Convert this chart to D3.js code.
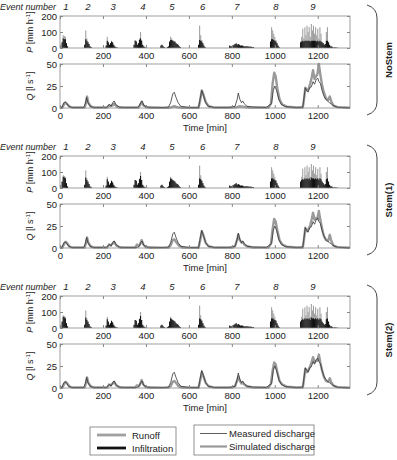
<!DOCTYPE html>
<html>
<head>
<meta charset="utf-8">
<script src="https://cdn.jsdelivr.net/npm/d3@7"></script>
<style>
body{margin:0;background:#fff;}
text{font-family:"Liberation Sans",Arial,sans-serif;fill:#222;}
</style>
</head>
<body>
<div id="chart"></div>
<script>
//Scenario names, event labels and ticks
const scenarios = ['NoStem', 'Stem(1)', 'Stem(2)'];
const eventNumbers = [1, 2, 3, 4, 5, 6, 7, 8, 9];
const eventTimes = [28, 130, 247, 386, 521, 664, 823, 1005, 1177];
const timeTicks = [0, 200, 400, 600, 800, 1000, 1200];
const pTicks = [0, 100, 200];
const qTicks = [0, 25, 50];

//Rainfall rows: [time, total P, infiltration NoStem, infiltration Stem]
const rain = [
	[10,40,35,40],[15,80,60,70],[20,75,55,65],[25,70,55,60],[30,30,30,30],[35,10,10,10],
	[115,20,20,20],[120,110,55,65],[125,60,45,50],[130,40,35,40],[135,25,25,25],[140,10,10,10],[145,5,5,5],
	[215,15,15,15],[220,70,45,55],[225,40,35,40],[230,20,20,20],[235,30,30,30],[240,45,40,45],[245,35,35,35],[250,20,20,20],[255,10,10,10],[260,5,5,5],[265,3,3,3],
	[345,20,20,20],[350,50,45,50],[355,45,40,45],[360,20,20,20],[365,30,30,30],[370,60,50,55],[375,100,60,75],[380,50,45,50],[385,20,20,20],[390,10,10,10],[395,5,5,5],
	[470,15,15,15],[475,20,20,20],[480,10,10,10],[485,5,5,5],[500,5,5,5],[505,10,10,10],[510,40,40,40],[515,70,50,60],[520,60,50,55],[525,50,45,50],[530,45,40,45],[535,40,40,40],[540,30,30,30],[545,25,25,25],[550,20,20,20],[555,10,10,10],[560,5,5,5],
	[645,20,20,20],[650,140,50,60],[655,80,45,55],[660,50,40,45],[665,30,30,30],[670,15,15,15],[675,5,5,5],
	[790,15,15,15],[795,10,10,10],[800,10,10,10],[805,15,15,15],[810,20,20,20],[815,25,25,25],[820,30,28,30],[825,20,20,20],[830,25,25,25],[835,20,20,20],[840,15,15,15],[845,15,15,15],[850,15,15,15],[855,10,10,10],[860,10,10,10],[865,10,10,10],[870,10,10,10],[875,10,10,10],[880,8,8,8],[885,8,8,8],[890,8,8,8],[895,5,5,5],[900,5,5,5],
	[980,40,40,40],[985,130,55,60],[990,110,55,60],[995,90,50,55],[1000,70,45,50],[1005,50,40,45],[1010,30,30,30],[1015,15,15,15],[1020,5,5,5],
	[1120,40,35,40],[1125,70,40,50],[1130,120,45,55],[1135,60,40,50],[1140,130,45,60],[1145,80,45,55],[1150,140,45,60],[1155,100,45,55],[1160,130,45,60],[1165,70,40,50],[1170,150,45,65],[1175,110,45,60],[1180,140,45,60],[1185,90,45,55],[1190,130,45,60],[1195,80,40,55],[1200,120,45,60],[1205,60,40,50],[1210,130,45,60],[1215,90,40,55],[1220,40,35,40],[1225,30,30,30],[1230,20,20,20],[1235,25,25,25],[1240,100,45,55],[1245,130,45,60],[1250,40,35,40],[1255,20,20,20],[1260,10,10,10],[1265,10,10,10],[1270,5,5,5],[1280,5,5,5],[1290,3,3,3]
];

//Discharge [time, Q]
const measured = [[0,0],[10,1],[18,6],[25,7],[32,5],[40,2],[55,0.5],[110,0.5],[118,5],[124,12],[130,6],[140,2],[155,0.5],[215,0.5],[225,3],[232,4],[238,2],[245,6],[252,8],[260,4],[275,1],[300,0.5],[360,0.5],[368,2],[376,6],[382,8],[390,3],[405,1],[480,0.5],[505,1],[515,6],[525,16],[532,18],[540,12],[550,6],[562,2],[600,0.5],[645,0.5],[652,10],[660,20],[668,14],[678,6],[690,2],[720,0.5],[780,0.5],[800,1],[815,2],[825,10],[830,17],[837,10],[845,6],[850,8],[858,5],[870,2],[900,1],[960,0.5],[985,5],[993,20],[1000,25],[1008,20],[1018,10],[1030,4],[1050,1.5],[1100,0.5],[1130,1],[1135,10],[1142,23],[1148,20],[1155,18],[1162,23],[1170,24],[1178,30],[1185,27],[1192,32],[1200,34],[1205,30],[1212,28],[1220,20],[1228,14],[1236,10],[1245,8],[1255,6],[1262,5],[1270,3],[1290,1],[1350,0]];

const simNoStem = [[0,0],[12,1],[20,5],[27,6],[34,4],[45,1.5],[60,0.5],[115,0.5],[120,5],[126,13],[132,6],[142,2],[160,0.5],[220,0.5],[228,3],[235,2],[245,3],[252,5],[262,2],[280,0.5],[365,0.5],[372,3],[380,7],[388,3],[400,1],[420,0.3],[505,0.3],[520,1],[532,2],[545,1],[570,0.3],[645,0.3],[652,8],[660,20],[668,15],[678,7],[692,2],[720,0.5],[800,0.5],[825,1],[835,2],[850,1.5],[880,0.5],[970,0.5],[982,5],[990,28],[997,40],[1004,36],[1012,22],[1022,10],[1035,4],[1055,1.5],[1100,0.5],[1130,0.5],[1135,8],[1142,23],[1150,20],[1158,22],[1165,28],[1172,35],[1178,43],[1185,33],[1192,36],[1198,38],[1205,50],[1212,38],[1220,26],[1228,18],[1238,11],[1248,9],[1256,13],[1262,8],[1272,3],[1290,1],[1350,0.3]];

const simStem1 = [[0,0],[12,1],[20,5],[27,7],[34,5],[45,1.5],[60,0.5],[115,0.5],[120,5],[126,12],[132,6],[142,2],[160,0.5],[220,0.5],[228,4],[235,3],[245,5],[252,7],[262,3],[280,0.5],[350,0.5],[358,4],[366,2],[372,4],[380,9],[388,4],[400,1],[420,0.3],[505,0.5],[515,3],[525,9],[532,10],[540,7],[552,3],[570,0.5],[645,0.3],[652,8],[660,19],[668,14],[678,6],[692,2],[720,0.5],[800,0.5],[815,2],[825,10],[830,15],[837,9],[845,6],[850,7],[858,4],[870,2],[900,0.5],[970,0.5],[982,5],[990,22],[997,33],[1004,30],[1012,20],[1022,9],[1035,4],[1055,1.5],[1100,0.5],[1130,0.5],[1135,8],[1142,23],[1150,19],[1158,22],[1165,26],[1172,33],[1178,40],[1185,32],[1192,34],[1198,33],[1205,42],[1212,32],[1220,22],[1228,14],[1238,9],[1248,8],[1256,15],[1262,9],[1272,3],[1290,1],[1350,0.3]];

const simStem2 = [[0,0],[12,1],[20,5],[27,7],[34,5],[45,1.5],[60,0.5],[115,0.5],[120,5],[126,12],[132,6],[142,2],[160,0.5],[220,0.5],[228,4],[235,3],[245,5],[252,7],[262,3],[280,0.5],[350,0.5],[358,3],[366,2],[372,4],[380,9],[388,4],[400,1],[420,0.3],[505,0.5],[515,2],[525,7],[532,8],[540,6],[552,2],[570,0.5],[645,0.3],[652,8],[660,18],[668,13],[678,6],[692,2],[720,0.5],[800,0.5],[815,2],[825,9],[830,13],[837,8],[845,5],[850,6],[858,4],[870,2],[900,0.5],[970,0.5],[982,5],[990,20],[997,29],[1004,27],[1012,18],[1022,8],[1035,4],[1055,1.5],[1100,0.5],[1130,0.5],[1135,8],[1142,22],[1150,18],[1158,21],[1165,25],[1172,30],[1178,35],[1185,29],[1192,31],[1198,31],[1205,38],[1212,29],[1220,20],[1228,13],[1238,8],[1248,7],[1256,11],[1262,7],[1272,3],[1290,1],[1350,0.3]];

const simulated = [simNoStem, simStem1, simStem2];
const infilColumn = [2, 3, 3];

const W = 397, H = 460;
const svg = d3.select('#chart').append('svg')
	.attr('width', W)
	.attr('height', H);

const x = d3.scaleLinear().domain([0, 1350]).range([60, 350]);
const yP = d3.scaleLinear().domain([0, 200]).range([48, 16]);
const yQ = d3.scaleLinear().domain([0, 50]).range([108, 64]);

const frameColor = '#888';
const runoffColor = '#a0a0a0';
const infilColor = '#111';
const measColor = '#333';
const simColor = '#9a9a9a';

function styleAxis(g){
	g.select('.domain').remove();
	g.selectAll('.tick line').attr('stroke', frameColor);
	g.selectAll('.tick text').style('font-size', '9.5px').attr('fill', '#222');
}

function drawFrame(g, y){
	const r = y.range();
	g.append('rect')
		.attr('x', x.range()[0])
		.attr('y', r[1])
		.attr('width', x.range()[1] - x.range()[0])
		.attr('height', r[0] - r[1])
		.attr('fill', 'none')
		.attr('stroke', frameColor)
		.attr('stroke-width', 0.8);
}

function renderScenario(i){
	const g = svg.append('g').attr('transform', `translate(0,${i * 140})`);

	//Event numbers
	g.append('text')
		.attr('x', 56).attr('y', 10)
		.attr('text-anchor', 'end')
		.style('font-size', '9px')
		.style('font-style', 'italic')
		.text('Event number');
	g.selectAll('.ev')
		.data(eventNumbers)
		.enter()
		.append('text')
		.attr('x', (d, k) => x(eventTimes[k]))
		.attr('y', 10)
		.attr('text-anchor', 'middle')
		.style('font-size', '9.5px')
		.style('font-style', 'italic')
		.text(d => d);

	//Rainfall panel
	const barW = x(5) - x(0);
	g.selectAll('.ro')
		.data(rain)
		.enter()
		.append('rect')
		.attr('x', d => x(d[0]) - barW / 2)
		.attr('width', barW)
		.attr('y', d => yP(d[1]))
		.attr('height', d => yP(0) - yP(d[1]))
		.attr('fill', runoffColor);
	g.selectAll('.inf')
		.data(rain)
		.enter()
		.append('rect')
		.attr('x', d => x(d[0]) - barW / 2)
		.attr('width', barW)
		.attr('y', d => yP(d[infilColumn[i]]))
		.attr('height', d => yP(0) - yP(d[infilColumn[i]]))
		.attr('fill', infilColor);

	drawFrame(g, yP);
	g.append('g').attr('transform', `translate(0,${yP(0)})`)
		.call(d3.axisBottom(x).tickValues(timeTicks).tickSize(-3).tickPadding(4).tickFormat(d3.format('d')))
		.call(styleAxis);
	g.append('g').attr('transform', `translate(0,${yP(200)})`)
		.call(d3.axisTop(x).tickValues(timeTicks).tickSize(-3).tickFormat(''))
		.call(styleAxis);
	g.append('g').attr('transform', `translate(${x.range()[0]},0)`)
		.call(d3.axisLeft(yP).tickValues(pTicks).tickSize(-3).tickPadding(3))
		.call(styleAxis);
	g.append('g').attr('transform', `translate(${x.range()[1]},0)`)
		.call(d3.axisRight(yP).tickValues(pTicks).tickSize(-3).tickFormat(''))
		.call(styleAxis);

	const pl = g.append('text')
		.attr('transform', `translate(33,${(yP(0) + yP(200)) / 2}) rotate(-90)`)
		.attr('text-anchor', 'middle')
		.style('font-size', '9px');
	pl.append('tspan').style('font-style', 'italic').text('P');
	pl.append('tspan').text('  [mm h');
	pl.append('tspan').attr('baseline-shift', 'super').style('font-size', '6px').text('-1');
	pl.append('tspan').text(']');

	//Discharge panel
	const line = d3.line().x(d => x(d[0])).y(d => yQ(d[1]));
	g.append('path')
		.datum(simulated[i])
		.attr('d', line)
		.attr('fill', 'none')
		.attr('stroke', simColor)
		.attr('stroke-width', 2.4)
		.attr('stroke-linejoin', 'round');
	g.append('path')
		.datum(measured)
		.attr('d', line)
		.attr('fill', 'none')
		.attr('stroke', measColor)
		.attr('stroke-width', 0.8)
		.attr('stroke-linejoin', 'round');

	drawFrame(g, yQ);
	g.append('g').attr('transform', `translate(0,${yQ(0)})`)
		.call(d3.axisBottom(x).tickValues(timeTicks).tickSize(-3).tickPadding(4).tickFormat(d3.format('d')))
		.call(styleAxis);
	g.append('g').attr('transform', `translate(0,${yQ(50)})`)
		.call(d3.axisTop(x).tickValues(timeTicks).tickSize(-3).tickFormat(''))
		.call(styleAxis);
	g.append('g').attr('transform', `translate(${x.range()[0]},0)`)
		.call(d3.axisLeft(yQ).tickValues(qTicks).tickSize(-3).tickPadding(3))
		.call(styleAxis);
	g.append('g').attr('transform', `translate(${x.range()[1]},0)`)
		.call(d3.axisRight(yQ).tickValues(qTicks).tickSize(-3).tickFormat(''))
		.call(styleAxis);

	const ql = g.append('text')
		.attr('transform', `translate(33,${(yQ(0) + yQ(50)) / 2}) rotate(-90)`)
		.attr('text-anchor', 'middle')
		.style('font-size', '9px');
	ql.append('tspan').style('font-style', 'italic').text('Q');
	ql.append('tspan').text('  [l s');
	ql.append('tspan').attr('baseline-shift', 'super').style('font-size', '6px').text('-1');
	ql.append('tspan').text(']');

	g.append('text')
		.attr('x', (x.range()[0] + x.range()[1]) / 2)
		.attr('y', 131)
		.attr('text-anchor', 'middle')
		.style('font-size', '9.5px')
		.text('Time [min]');

	//Bracket and scenario name
	g.append('path')
		.attr('d', 'M367,5 Q377,8 377,18 L377,102 Q377,112 367,115')
		.attr('fill', 'none')
		.attr('stroke', '#444')
		.attr('stroke-width', 1);
	g.append('text')
		.attr('transform', 'translate(392,60) rotate(-90)')
		.attr('text-anchor', 'middle')
		.style('font-size', '9.5px')
		.style('font-weight', 'bold')
		.text(scenarios[i]);
}

scenarios.forEach((s, i) => renderScenario(i));

//Legends
const leg1 = svg.append('g');
leg1.append('rect').attr('x', 90).attr('y', 427).attr('width', 86).attr('height', 28)
	.attr('fill', '#fff').attr('stroke', '#777').attr('stroke-width', 0.8);
[['Runoff', runoffColor], ['Infiltration', infilColor]].forEach((d, k) => {
	const yy = 435 + k * 13;
	leg1.append('line').attr('x1', 97).attr('x2', 126).attr('y1', yy).attr('y2', yy)
		.attr('stroke', d[1]).attr('stroke-width', 2.8);
	leg1.append('text').attr('x', 132).attr('y', yy + 3.5).style('font-size', '9.5px').text(d[0]);
});

const leg2 = svg.append('g');
leg2.append('rect').attr('x', 194).attr('y', 425).attr('width', 120).attr('height', 30)
	.attr('fill', '#fff').attr('stroke', '#777').attr('stroke-width', 0.8);
[['Measured discharge', measColor, 0.8], ['Simulated discharge', simColor, 2.2]].forEach((d, k) => {
	const yy = 433.5 + k * 13;
	leg2.append('line').attr('x1', 200).attr('x2', 227).attr('y1', yy).attr('y2', yy)
		.attr('stroke', d[1]).attr('stroke-width', d[2]);
	leg2.append('text').attr('x', 229).attr('y', yy + 3.5).style('font-size', '9.5px').text(d[0]);
});
</script>
</body>
</html>
